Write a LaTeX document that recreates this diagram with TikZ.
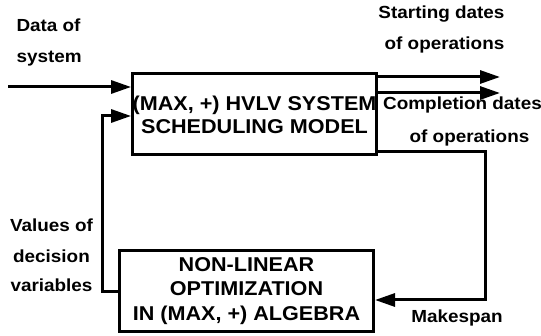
\documentclass[tikz,border=0pt]{standalone}
\usepackage{fontspec}
\setmainfont{Liberation Sans}[FakeStretch=1.08]
\usetikzlibrary{arrows.meta}
\begin{document}
\begin{tikzpicture}[x=1pt,y=-1pt,
  line width=3pt,
  arr/.style={-{Triangle[length=20pt,width=13pt]}},
  lbl/.style={anchor=base,inner sep=0pt,font=\fontsize{17.5}{20}\selectfont\bfseries},
  blk/.style={draw,line width=3pt,align=center,inner sep=0pt}]
\useasboundingbox (0,0) rectangle (541,336);
\node[blk,minimum width=238pt,minimum height=81pt,font=\fontsize{20}{23}\selectfont\bfseries]
  (top) at (254.5,114.5) {(MAX, +) HVLV SYSTEM\\SCHEDULING MODEL};
\node[blk,minimum width=254pt,minimum height=81pt,font=\fontsize{20}{24.5}\selectfont\bfseries]
  (bot) at (246.5,291) {NON-LINEAR\\OPTIMIZATION\\IN (MAX, +) ALGEBRA};
% labels
\node[lbl,anchor=base west] (d1) at (15,32) {Data of};
\node[lbl,anchor=base west] (d2) at (15,63) {system};
\node[lbl] (s1) at (441.5,19) {Starting dates};
\node[lbl] (s2) at (444.5,50) {of operations};
\node[lbl] (c1) at (462.5,110) {Completion dates};
\node[lbl] (c2) at (469.5,143) {of operations};
\node[lbl] (v1) at (51.5,232) {Values of};
\node[lbl] (v2) at (51.5,263) {decision};
\node[lbl] (v3) at (51.5,292) {variables};
\node[lbl] (mk) at (457,323) {Makespan};
% connectors
\coordinate (in) at (8,87);
\draw[arr] (in) -- (in -| top.west);
\coordinate (o1) at (500,77);
\coordinate (o2) at (500,93);
\draw[arr] (o1 -| top.east) -- (o1);
\draw[arr] (o2 -| top.east) -- (o2);
\coordinate (m1) at (485,152);
\coordinate (m2) at (485,300);
\draw[arr] (m1 -| top.east) -- (m1) -- (m2) -- (m2 -| bot.east);
\coordinate (f1) at (102,292);
\coordinate (f2) at (102,116);
\draw[arr] (f1 -| bot.west) -- (f1) -- (f2) -- (f2 -| top.west);
\end{tikzpicture}
\end{document}
